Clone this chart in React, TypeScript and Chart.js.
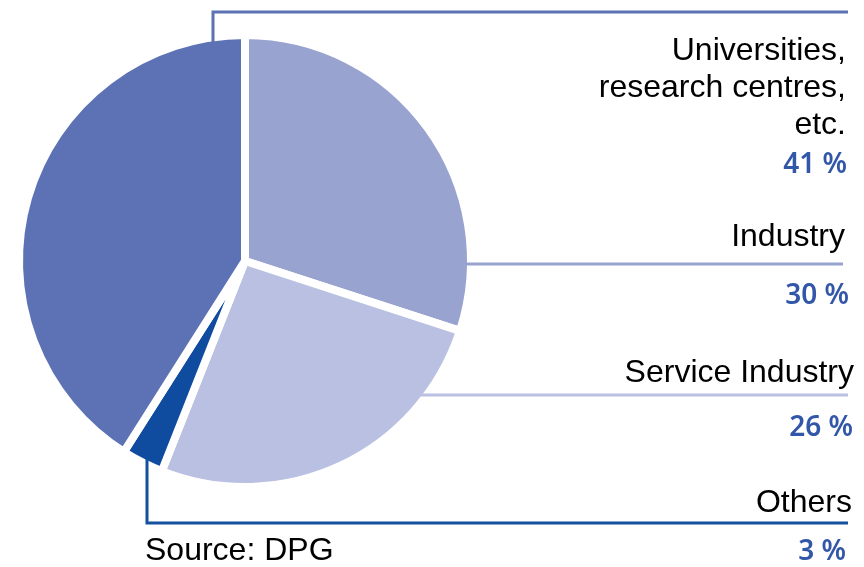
import React, { useEffect, useRef } from "react";
import { Chart, registerables } from "chart.js";

Chart.register(...registerables);

// Data (clockwise from 12 o'clock)
const categories = ["Industry", "Service Industry", "Others", "Universities, research centres, etc."];
const shares = [30, 26, 3, 41];
const labelLines = [["Industry"], ["Service Industry"], ["Others"], ["Universities,", "research centres,", "etc."]];
const sliceColors = ["#98A3D0", "#B9C0E2", "#0F4CA0", "#5C72B4"];
const lineColors = ["#98A3D0", "#B9C0E2", "#1350A0", "#5C72B4"];

// Layout of the callouts (positions only)
const callouts = [
  { kind: "h", y: 264, lineEnd: 843, labelBase: [246], labelRight: 845, pctBase: 304, pctRight: 849 },
  { kind: "h", y: 395, lineEnd: 848, labelBase: [382], labelRight: 854, pctBase: 436, pctRight: 853 },
  { kind: "v", x: 147, y: 523, lineEnd: 848, labelBase: [512], labelRight: 852, pctBase: 560, pctRight: 846 },
  { kind: "v", x: 213, y: 12, lineEnd: 848, labelBase: [60, 97, 134], labelRight: 846, pctBase: 173, pctRight: 847 },
];

const calloutPlugin = {
  id: "callouts",
  afterDatasetsDraw(chart: any) {
    const ctx = chart.ctx;
    const arc = chart.getDatasetMeta(0).data[0];
    const cx = arc.x, cy = arc.y;
    const r = arc.outerRadius - 5;
    ctx.save();
    ctx.lineWidth = 3;
    ctx.lineCap = "butt";
    callouts.forEach((c: any, i: number) => {
      ctx.strokeStyle = lineColors[i];
      ctx.beginPath();
      if (c.kind === "h") {
        const dx = Math.sqrt(Math.max(r * r - (c.y - cy) * (c.y - cy), 0));
        ctx.moveTo(cx + dx, c.y);
        ctx.lineTo(c.lineEnd, c.y);
      } else {
        const dy = Math.sqrt(Math.max(r * r - (c.x - cx) * (c.x - cx), 0));
        const sy = c.y < cy ? cy - dy : cy + dy;
        ctx.moveTo(c.x, sy);
        ctx.lineTo(c.x, c.y);
        ctx.lineTo(c.lineEnd, c.y);
      }
      ctx.stroke();
    });
    ctx.restore();
  },
  afterDraw(chart: any) {
    const ctx = chart.ctx;
    ctx.save();
    ctx.textAlign = "right";
    ctx.textBaseline = "alphabetic";
    callouts.forEach((c: any, i: number) => {
      ctx.fillStyle = "#000000";
      ctx.font = "32px 'Liberation Sans', Arial, sans-serif";
      labelLines[i].forEach((t: string, k: number) => {
        ctx.fillText(t, c.labelRight, c.labelBase[k]);
      });
      ctx.fillStyle = "#3257A8";
      ctx.font = "600 28px 'Noto Sans', sans-serif";
      ctx.fillText(shares[i] + " %", c.pctRight, c.pctBase);
    });
    ctx.textAlign = "left";
    ctx.fillStyle = "#000000";
    ctx.font = "32px 'Liberation Sans', Arial, sans-serif";
    ctx.fillText("Source: DPG", 145, 560);
    ctx.restore();
  },
};

export default function App() {
  const ref = useRef<HTMLCanvasElement>(null);
  useEffect(() => {
    if (!ref.current) return;
    const chart = new Chart(ref.current, {
      type: "pie",
      data: {
        labels: categories,
        datasets: [
          {
            data: shares,
            backgroundColor: sliceColors,
            borderColor: "#ffffff",
            borderWidth: 8,
          },
        ],
      },
      options: {
        responsive: false,
        animation: false,
        radius: 226,
        layout: { padding: { left: 0, right: 374, top: 0, bottom: 45 } },
        plugins: { legend: { display: false }, tooltip: { enabled: false } },
      } as any,
      plugins: [calloutPlugin],
    });
    return () => chart.destroy();
  }, []);
  return (
    <div style={{ position: "absolute", left: 0, top: 0, width: 864, height: 567, background: "#fff" }}>
      <canvas ref={ref} width={864} height={567} />
    </div>
  );
}
